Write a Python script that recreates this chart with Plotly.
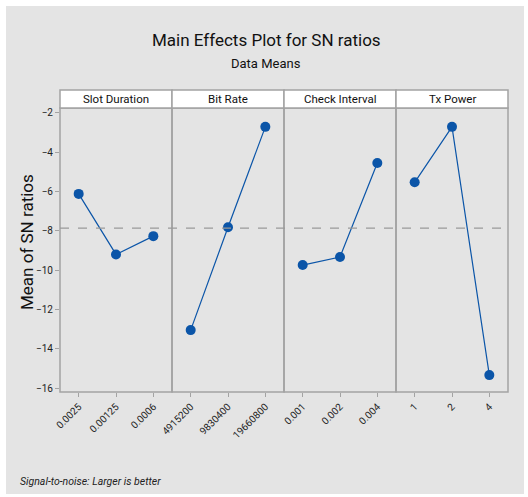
import plotly.graph_objects as go

# Factors, their levels and the mean S/N ratio at each level
factors = ["Slot Duration", "Bit Rate", "Check Interval", "Tx Power"]
slot_levels = ["0.0025", "0.00125", "0.0006"]
bit_levels = ["4915200", "9830400", "19660800"]
check_levels = ["0.001", "0.002", "0.004"]
tx_levels = ["1", "2", "4"]

slot_sn = [-6.12, -9.20, -8.27]
bit_sn = [-13.05, -7.82, -2.71]
check_sn = [-9.74, -9.33, -4.55]
tx_sn = [-5.53, -2.71, -15.34]

y_ticks = [-16, -14, -12, -10, -8, -6, -4, -2]

levels = [slot_levels, bit_levels, check_levels, tx_levels]
values = [slot_sn, bit_sn, check_sn, tx_sn]
grand_mean = sum(sum(v) for v in values) / sum(len(v) for v in values)

W, H = 528, 497
ML, MR, MT, MB = 60, 20, 90, 105
pw, ph = W - ML - MR, H - MT - MB
strip_h = 18
ytop = 1 - strip_h / ph  # top of data area in paper units

FONT = "Roboto, sans-serif"
LINE_GRAY = "#a3a3a3"
BLUE = "#0b55a8"

fig = go.Figure()
shapes = []
annotations = []


def px_x(x):
    return (x - ML) / pw


def px_y(y):
    return (H - MB - y) / ph


# full-figure gray backdrop
shapes.append(dict(type="rect", xref="paper", yref="paper", layer="below",
                   x0=px_x(6), x1=px_x(524), y0=px_y(494), y1=px_y(6),
                   fillcolor="#e4e4e4", line=dict(width=0)))

for i, (name, lv, vals) in enumerate(zip(factors, levels, values)):
    ax = "" if i == 0 else str(i + 1)
    x0, x1 = i / 4, (i + 1) / 4
    fig.add_trace(go.Scatter(
        x=lv, y=vals, xaxis="x" + ax, yaxis="y",
        mode="lines+markers",
        line=dict(color=BLUE, width=1.2),
        marker=dict(color=BLUE, size=10, line=dict(width=0)),
        showlegend=False,
    ))
    fig.layout["xaxis" + ax] = dict(
        domain=[x0, x1], anchor="y", type="category",
        categoryorder="array", categoryarray=lv,
        range=[-0.5, 2.5], showgrid=False, zeroline=False, showline=False,
        ticks="outside", ticklen=4, tickcolor=LINE_GRAY, tickangle=-45,
        tickfont=dict(family=FONT, size=10, color="#222"),
    )
    # panel frame
    shapes.append(dict(type="rect", xref="paper", yref="paper",
                       x0=x0, x1=x1, y0=0, y1=ytop,
                       fillcolor="rgba(0,0,0,0)",
                       line=dict(color=LINE_GRAY, width=1.5)))
    # strip header
    shapes.append(dict(type="rect", xref="paper", yref="paper",
                       x0=x0, x1=x1, y0=ytop, y1=1,
                       fillcolor="white",
                       line=dict(color=LINE_GRAY, width=1.5)))
    annotations.append(dict(xref="paper", yref="paper", x=(x0 + x1) / 2,
                            y=(ytop + 1) / 2, text=name, showarrow=False,
                            font=dict(family=FONT, size=11.5, color="#111"),
                            xanchor="center", yanchor="middle"))

# grand-mean reference line
shapes.append(dict(type="line", xref="paper", yref="y", x0=0, x1=1,
                   y0=grand_mean, y1=grand_mean,
                   line=dict(color="#999999", width=1.2, dash="dash")))

annotations += [
    dict(xref="paper", yref="paper", x=px_x(266), y=px_y(40),
         text="Main Effects Plot for SN ratios", showarrow=False,
         font=dict(family=FONT, size=17, color="#111"), xanchor="center", yanchor="middle"),
    dict(xref="paper", yref="paper", x=px_x(266), y=px_y(63),
         text="Data Means", showarrow=False,
         font=dict(family=FONT, size=13, color="#111"), xanchor="center", yanchor="middle"),
    dict(xref="paper", yref="paper", x=px_x(27), y=px_y(242),
         text="Mean of SN ratios", showarrow=False, textangle=-90,
         font=dict(family=FONT, size=17, color="#111"), xanchor="center", yanchor="middle"),
    dict(xref="paper", yref="paper", x=px_x(18), y=px_y(481),
         text="<i>Signal-to-noise: Larger is better</i>", showarrow=False,
         font=dict(family=FONT, size=10.5, color="#222"), xanchor="left", yanchor="middle"),
]

fig.update_layout(
    width=W, height=H,
    margin=dict(l=ML, r=MR, t=MT, b=MB, pad=0),
    paper_bgcolor="white", plot_bgcolor="white",
    yaxis=dict(domain=[0, ytop], anchor="x", range=[-16.2, -1.75],
               tickvals=y_ticks, ticks="outside", ticklen=4, tickcolor=LINE_GRAY,
               showgrid=False, zeroline=False, showline=False,
               tickfont=dict(family=FONT, size=10, color="#222")),
    shapes=shapes, annotations=annotations,
)

fig.write_html("out.html")
